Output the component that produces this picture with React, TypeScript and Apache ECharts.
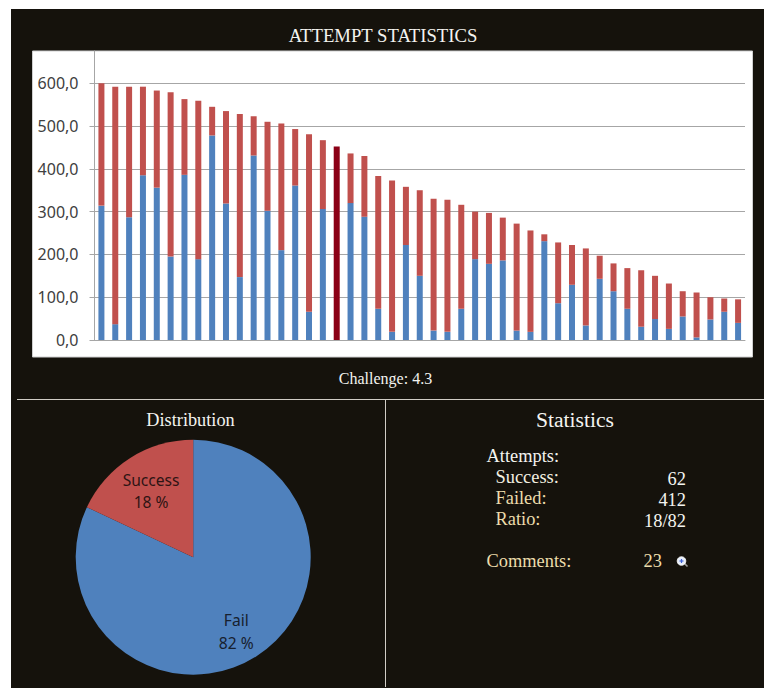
import React, { useEffect, useRef } from "react";
import * as echarts from "echarts";

// Per-challenge attempt counts, sorted by total attempts.
const challenges = Array.from({ length: 47 }, (_, i) => `C${i + 1}`);
const successAttempts = [
  314, 37, 287, 385, 356, 195, 386, 189, 478, 319, 147, 431, 302, 210, 361, 66, 306, 0, 320, 288,
  73, 19, 222, 150, 22, 19, 73, 189, 178, 186, 22, 19, 231, 86, 129, 34, 143, 114, 73, 31, 49, 26,
  55, 6, 48, 66, 40,
];
const failedAttempts = [
  286, 555, 305, 207, 227, 384, 177, 370, 67, 216, 381, 92, 208, 296, 132, 415, 161, 452, 116, 142,
  310, 354, 136, 200, 308, 309, 243, 111, 119, 100, 250, 237, 16, 142, 93, 180, 54, 65, 95, 132,
  101, 106, 59, 105, 52, 31, 55,
];
const currentChallengeIndex = 17;
const yTicks = [0, 100, 200, 300, 400, 500, 600];

const distributionLabels = ["Fail", "Success"];
const distributionValues = [82, 18];

const BLUE = "#4f81bd";
const RED = "#c0504d";
const CURRENT = "#8b0016";
const PANEL = "#15120c";
const RULE = "#d0cdc6";
const TAN = "#ecdcab";
const WHITE = "#f4f4f0";
const SERIF = '"Liberation Serif", "Times New Roman", serif';
const AXIS_FONT = '"Noto Sans", "Open Sans", sans-serif';

const label = (
  text: string,
  x: number,
  y: number,
  fontSize: number,
  fill: string,
  align: "left" | "center" | "right" = "left",
) => ({
  type: "text",
  x,
  y,
  z: 5,
  style: { text, fontSize, fill, align, verticalAlign: "middle", fontFamily: SERIF },
});

export default function App() {
  const ref = useRef<HTMLDivElement>(null);

  useEffect(() => {
    document.body.style.margin = "0";
    document.body.style.background = "#ffffff";
    const chart = echarts.init(ref.current!, undefined, { renderer: "svg" });
    chart.setOption({
      animation: false,
      backgroundColor: "#ffffff",
      grid: { left: 94.5, right: 19, top: 51, bottom: 348, containLabel: false },
      xAxis: {
        type: "category",
        data: challenges,
        axisLine: { show: true, lineStyle: { color: "#a6a6a6", width: 1 } },
        axisTick: { show: false },
        axisLabel: { show: false },
        splitLine: { show: false },
      },
      yAxis: {
        type: "value",
        min: 0,
        max: 675.4,
        interval: 100,
        z: 3,
        axisLine: { show: true, lineStyle: { color: "#a6a6a6", width: 1 } },
        axisTick: {
          show: true,
          length: 5,
          lineStyle: { color: "#a6a6a6" },
          customValues: yTicks,
        },
        axisLabel: {
          customValues: yTicks,
          margin: 16,
          color: "#404040",
          fontSize: 16,
          fontFamily: AXIS_FONT,
          formatter: (v: number) => v.toFixed(1).replace(".", ","),
        },
        splitLine: { show: true, lineStyle: { color: "#a6a6a6", width: 1 } },
      },
      series: [
        {
          type: "bar",
          stack: "attempts",
          barWidth: 6,
          z: 4,
          itemStyle: { color: BLUE },
          data: successAttempts,
        },
        {
          type: "bar",
          stack: "attempts",
          barWidth: 6,
          z: 4,
          itemStyle: { color: RED },
          data: failedAttempts.map((value, i) =>
            i === currentChallengeIndex ? { value, itemStyle: { color: CURRENT } } : value,
          ),
        },
        {
          type: "pie",
          center: [193.2, 557.2],
          radius: 117.5,
          startAngle: 90,
          clockwise: true,
          silent: true,
          z: 6,
          label: {
            show: true,
            position: "inside",
            formatter: "{b}\n{c} %",
            fontFamily: AXIS_FONT,
            fontSize: 15.6,
            lineHeight: 22.5,
            color: "#17202e",
          },
          labelLine: { show: false },
          labelLayout: (params: { dataIndex: number }) =>
            params.dataIndex === 0 ? { dx: 10, dy: 22 } : { dx: -9, dy: -14 },
          data: distributionLabels.map((name, i) => ({
            name,
            value: distributionValues[i],
            itemStyle: { color: i === 0 ? BLUE : RED },
            label: { color: i === 0 ? "#17202e" : "#2e1414" },
          })),
        },
      ],
      graphic: {
        elements: [
          // Dark page panel and the white plot card that sits on it.
          { type: "rect", z: -10, shape: { x: 11, y: 9, width: 753, height: 679 }, style: { fill: PANEL } },
          {
            type: "rect",
            z: -9,
            shape: { x: 32.5, y: 51, width: 720, height: 306 },
            style: { fill: "#ffffff", stroke: "#cfcfcf", lineWidth: 1 },
          },
          { type: "line", z: 5, shape: { x1: 17, y1: 399.5, x2: 764, y2: 399.5 }, style: { stroke: RULE, lineWidth: 1 } },
          { type: "line", z: 5, shape: { x1: 385.5, y1: 399.5, x2: 385.5, y2: 687 }, style: { stroke: RULE, lineWidth: 1 } },

          label("ATTEMPT STATISTICS", 383, 35, 18.7, WHITE, "center"),
          label("Challenge: 4.3", 385.5, 378, 16, WHITE, "center"),
          label("Distribution", 190.5, 419.5, 18.3, WHITE, "center"),
          label("Statistics", 575, 420, 21.6, WHITE, "center"),

          label("Attempts:", 486.5, 456, 18.4, WHITE),
          label("Success:", 495.5, 477, 18.4, "#f3efe0"),
          label("Failed:", 495.5, 498, 18.4, TAN),
          label("Ratio:", 495.5, 519, 18.4, TAN),
          label("Comments:", 486.5, 561, 18.4, TAN),

          label("62", 686, 478.5, 18.4, WHITE, "right"),
          label("412", 686, 499.5, 18.4, WHITE, "right"),
          label("18/82", 686, 520.5, 18.4, WHITE, "right"),
          label("23", 662, 561, 18.4, TAN, "right"),

          // Magnifier icon next to the comment count.
          { type: "line", z: 5, shape: { x1: 684, y1: 563, x2: 687.5, y2: 566.5 }, style: { stroke: "#9a9a9a", lineWidth: 1.6 } },
          { type: "circle", z: 6, shape: { cx: 681.5, cy: 561, r: 4.3 }, style: { fill: "#e8effa", stroke: "#ffffff", lineWidth: 0.8 } },
          { type: "line", z: 7, shape: { x1: 679.5, y1: 561, x2: 683.5, y2: 561 }, style: { stroke: "#3f62d8", lineWidth: 1.2 } },
          { type: "line", z: 7, shape: { x1: 681.5, y1: 559, x2: 681.5, y2: 563 }, style: { stroke: "#3f62d8", lineWidth: 1.2 } },
        ],
      },
    });
    return () => chart.dispose();
  }, []);

  return <div ref={ref} style={{ width: 764, height: 688 }} />;
}
